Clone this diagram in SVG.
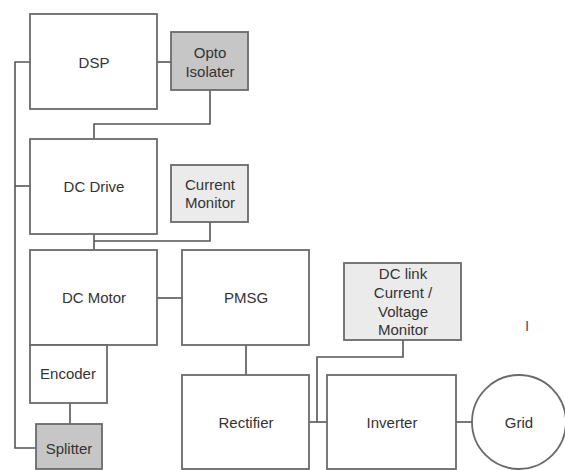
<svg xmlns="http://www.w3.org/2000/svg" width="565" height="470" viewBox="0 0 565 470">
<style>
.b{fill:#fff;stroke:#6a6a6a;stroke-width:1.8}
.d{fill:#c6c6c6;stroke:#6a6a6a;stroke-width:1.8}
.l{fill:#ebebeb;stroke:#6a6a6a;stroke-width:1.8}
.c{fill:none;stroke:#555;stroke-width:1.6}
text{font-family:"Liberation Sans",Arial,sans-serif;font-size:15px;fill:#333;text-anchor:middle;dominant-baseline:central}
</style>
<rect width="565" height="470" fill="#fff"/>
<g id="connectors">
<polyline class="c" points="30,62 15,62 15,448 36,448"/>
<line class="c" x1="15" y1="186" x2="30" y2="186"/>
<line class="c" x1="157" y1="62" x2="171" y2="62"/>
<polyline class="c" points="210,90 210,124 94,124 94,139"/>
<line class="c" x1="94" y1="234" x2="94" y2="250"/>
<polyline class="c" points="210,222 210,241 94,241"/>
<line class="c" x1="157" y1="298" x2="182" y2="298"/>
<line class="c" x1="70" y1="403" x2="70" y2="424"/>
<line class="c" x1="246" y1="345" x2="246" y2="375"/>
<line class="c" x1="309" y1="422" x2="327" y2="422"/>
<polyline class="c" points="403,340 403,357 317,357 317,422"/>
<line class="c" x1="456" y1="422" x2="472" y2="422"/>
</g>
<g id="dsp"><rect class="b" x="30" y="14" width="127" height="95"/><text x="94" y="62">DSP</text></g>
<g id="opto"><rect class="d" x="171" y="32" width="77" height="58"/><text x="210" y="52">Opto</text><text x="210" y="71">Isolater</text></g>
<g id="dcdrive"><rect class="b" x="30" y="139" width="127" height="95"/><text x="94" y="186">DC Drive</text></g>
<g id="currentmonitor"><rect class="l" x="171" y="165" width="77" height="57"/><text x="210" y="184">Current</text><text x="210" y="202">Monitor</text></g>
<g id="dcmotor"><rect class="b" x="30" y="250" width="127" height="95"/><text x="94" y="297">DC Motor</text></g>
<g id="encoder"><rect class="b" x="30" y="345" width="77" height="58"/><text x="68" y="373">Encoder</text></g>
<g id="splitter"><rect class="d" x="36" y="424" width="66" height="45"/><text x="69" y="448">Splitter</text></g>
<g id="pmsg"><rect class="b" x="182" y="250" width="127" height="95"/><text x="246" y="297">PMSG</text></g>
<g id="dclink"><rect class="l" x="344" y="263" width="117" height="77"/><text x="403" y="273">DC link</text><text x="403" y="292">Current /</text><text x="403" y="311">Voltage</text><text x="403" y="329">Monitor</text></g>
<g id="rectifier"><rect class="b" x="182" y="375" width="127" height="94"/><text x="246" y="422">Rectifier</text></g>
<g id="inverter"><rect class="b" x="327" y="375" width="129" height="94"/><text x="392" y="422">Inverter</text></g>
<g id="grid"><circle class="b" cx="519" cy="422" r="47"/><text x="519" y="422">Grid</text></g>
<text x="527" y="325" style="font-size:15px;fill:#555">I</text>
</svg>
